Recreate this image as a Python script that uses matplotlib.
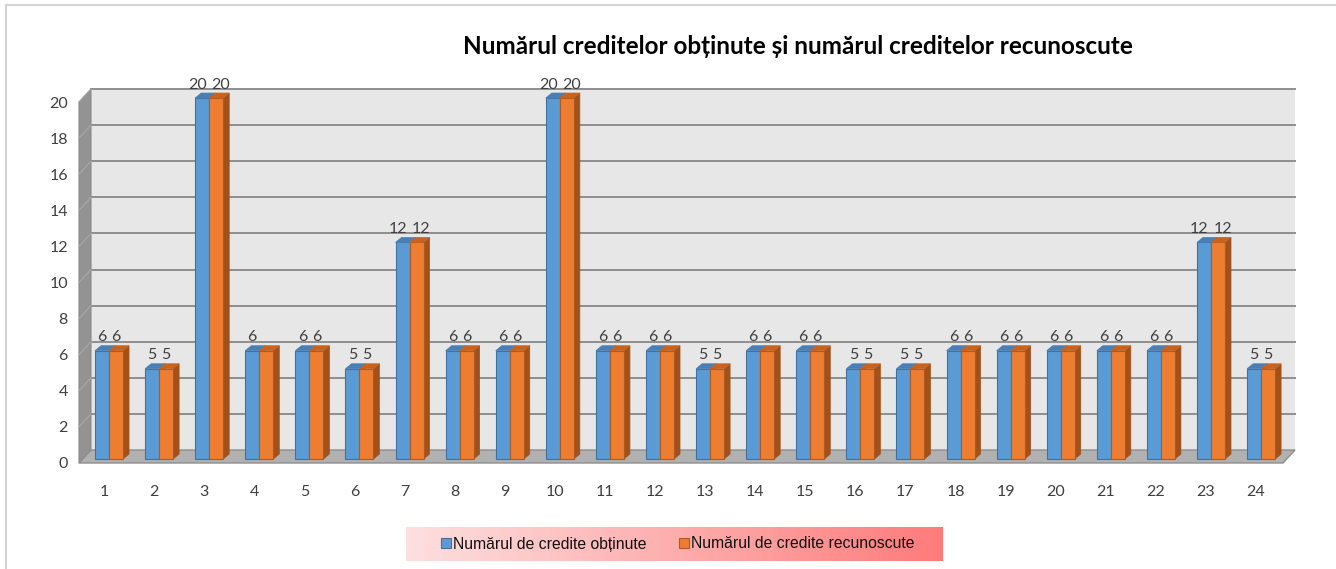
import numpy as np
import matplotlib
matplotlib.use("Agg")
import matplotlib.pyplot as plt
from matplotlib.patches import Polygon, Rectangle
from matplotlib.colors import LinearSegmentedColormap

# data
categories = [str(i) for i in range(1, 25)]
obtinute = [6, 5, 20, 6, 6, 5, 12, 6, 6, 20, 6, 6, 5, 6, 6, 5, 5, 6, 6, 6, 6, 6, 12, 5]
recunoscute = [6, 5, 20, 6, 6, 5, 12, 6, 6, 20, 6, 6, 5, 6, 6, 5, 5, 6, 6, 6, 6, 6, 12, 5]
# the reference shows no label on the orange bar of category 4
label_recunoscute = [i != 3 for i in range(24)]
y_ticks = list(range(0, 21, 2))

title = "Numărul creditelor obținute și numărul creditelor recunoscute"
series_names = ["Numărul de credite obținute", "Numărul de credite recunoscute"]

plt.rcParams['font.family'] = ['Lato', 'DejaVu Sans']

W, H = 1336, 569
fig = plt.figure(figsize=(W / 100, H / 100), dpi=100)

# plot area in pixels (front-left corner of floor to back-right top)
px_left, px_right, px_top, px_bottom = 79, 1295, 89, 463
ax = fig.add_axes([px_left / W, 1 - px_bottom / H,
                   (px_right - px_left) / W, (px_bottom - px_top) / H])

step = 50.09     # px per category
yscale = 18.05   # px per unit
x0 = (px_left - 109) / step
x1 = (px_right - 109) / step
depth_x = 12 / step
depth_y = 13 / yscale
ax.set_xlim(x0, x1)
ax.set_ylim(-depth_y, 20)

# walls
ax.add_patch(Rectangle((x0 + depth_x, 0), x1 - x0 - depth_x, 20,
                       facecolor='#e7e7e7', edgecolor='none', zorder=0.5))
ax.add_patch(Polygon([(x0, -depth_y), (x0 + depth_x, 0), (x0 + depth_x, 20), (x0, 20 - depth_y)],
                     facecolor='#939393', edgecolor='#8a8a8a', lw=0.8, zorder=1, clip_on=False))
ax.add_patch(Polygon([(x0, -depth_y), (x1 - depth_x, -depth_y), (x1, 0), (x0 + depth_x, 0)],
                     facecolor='#b1b1b1', edgecolor='#8e8e8e', lw=1.0, zorder=1, clip_on=False))
for v in y_ticks[1:]:
    ax.plot([x0 + depth_x, x1], [v, v], color='#8e8e8e', lw=1.4, zorder=1, clip_on=False)
    ax.plot([x0, x0 + depth_x], [v - depth_y, v], color='#a8a8a8', lw=0.8, zorder=1.5, clip_on=False)

# bars
idx = np.arange(len(categories))
bw = 0.28
base = -0.5
bx = 6 / step
by = 5 / yscale

b1 = ax.bar(idx - bw / 2, obtinute, bw, bottom=base, color='#5b9bd5',
            edgecolor='#41719c', lw=0.8, zorder=3)
b2 = ax.bar(idx + bw / 2, recunoscute, bw, bottom=base, color='#ed7d31',
            edgecolor='#ae5a21', lw=0.8, zorder=3)

for i in idx:
    for xc, val, top_c, side_c in [(i - bw / 2, obtinute[i], '#4a7fb5', '#41719c'),
                                   (i + bw / 2, recunoscute[i], '#c8631f', '#a3511a')]:
        xl = xc - bw / 2
        t = base + val
        ax.add_patch(Polygon([(xl, t), (xl + bw, t), (xl + bw + bx, t + by), (xl + bx, t + by)],
                             facecolor=top_c, edgecolor=top_c, lw=0.5, zorder=4))
        ax.add_patch(Polygon([(xl + bw, base), (xl + bw + bx, base + by),
                              (xl + bw + bx, t + by), (xl + bw, t)],
                             facecolor=side_c, edgecolor=side_c, lw=0.5, zorder=2.9))

    # two-digit labels are pushed apart a little, as in the reference
    nudge = 0.09 if obtinute[i] >= 10 else 0.0
    ax.text(i - bw / 2 - nudge, base + obtinute[i] + 0.35, str(obtinute[i]),
            ha='center', va='bottom', fontsize=11.5, color='#404040', zorder=5)
    if label_recunoscute[i]:
        ax.text(i + bw / 2 + nudge, base + recunoscute[i] + 0.35, str(recunoscute[i]),
                ha='center', va='bottom', fontsize=11.5, color='#404040', zorder=5)

# axes text
ax.set_yticks([v - depth_y for v in y_ticks], [str(v) for v in y_ticks])
ax.set_xticks(idx - 0.1, categories)
ax.tick_params(axis='y', length=0, pad=8, labelsize=11.5, labelcolor='#404040')
ax.tick_params(axis='x', length=0, pad=16, labelsize=11.5, labelcolor='#404040')
for s in ax.spines.values():
    s.set_visible(False)
ax.patch.set_visible(False)

fig.text(798 / W, 1 - 46 / H, title, ha='center', va='center',
         fontsize=17.5, fontweight='bold', color='black')

# legend with gradient background
lax = fig.add_axes([406 / W, 1 - 561 / H, 537 / W, 34 / H])
cmap = LinearSegmentedColormap.from_list('pink', ['#fde0e0', '#ff7b7b'])
lax.imshow(np.linspace(0, 1, 256).reshape(1, -1), aspect='auto', cmap=cmap, extent=[0, 1, 0, 1])
lax.axis('off')

fig.legend([b1, b2], series_names, ncol=2, loc='center',
           bbox_to_anchor=(678 / W, 1 - 544 / H), frameon=False,
           prop={'family': ['Liberation Sans', 'DejaVu Sans'], 'size': 11.3},
           handlelength=0.6, handleheight=0.6, handletextpad=0.15, columnspacing=2.1,
           labelcolor='#111111')

# outer chart border
fig.add_artist(Rectangle((6 / W, -0.1), 1.1, 1.1 - 5 / H, transform=fig.transFigure,
                         fill=False, edgecolor='#d4d4d4', lw=1.5))

fig.savefig('out.png', dpi=100)
